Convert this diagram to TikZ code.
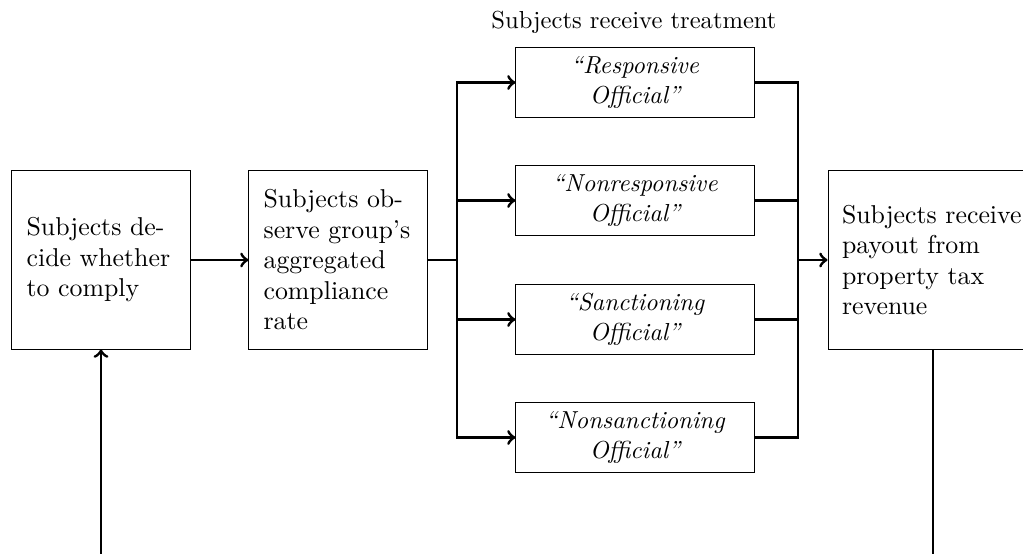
\documentclass[tikz,border=0pt]{standalone}
\begin{document}
\begin{tikzpicture}[x=0.40665pt,y=-0.40665pt,
  boxfont/.style={font=\fontsize{10.5}{12.4}\selectfont},
  box/.style={draw, boxfont, inner sep=0pt, minimum width=72.4pt, minimum height=72.4pt, text width=60.5pt, align=left},
  cbox/.style={draw, boxfont, inner sep=0pt, minimum width=85.4pt, minimum height=72.4pt, text width=74pt, align=left},
  tbox/.style={draw, inner sep=0pt, minimum width=96.8pt, minimum height=28.1pt, text width=90pt, align=center, font=\itshape},
  conn/.style={very thick},
  arr/.style={very thick,->}]
\useasboundingbox (0,0) rectangle (1023,554);
\clip (0,0) rectangle (1023,554);
\node[box] (A) at (101,260) {Subjects de-\\cide whether\\to comply};
\node[box] (B) at (338,260) {Subjects ob-\\serve group's\\aggregated\\compliance\\rate};
\node[cbox] (C) at (933,260) {Subjects receive\\payout from\\property tax\\revenue};
\node[tbox] (T1) at (635,82.5) {``Responsive\\Official''};
\node[tbox] (T2) at (635,200.5) {``Nonresponsive\\Official''};
\node[tbox] (T3) at (635,319.5) {``Sanctioning\\Official''};
\node[tbox] (T4) at (635,437.5) {``Nonsanctioning\\Official''};
\node (title) at (634,22) {Subjects receive treatment};
\coordinate (s) at (457,260);
\coordinate (m) at (798,260);
\coordinate (bl) at (101,560);
\coordinate (br) at (933,560);
\draw[arr] (A.east) -- (B.west);
\draw[conn] (B.east) -- (s);
\draw[arr] (s) |- (T1.west);
\draw[arr] (s) |- (T4.west);
\draw[arr] (s |- T2) -- (T2.west);
\draw[arr] (s |- T3) -- (T3.west);
\draw[conn] (T1.east) -| (m);
\draw[conn] (T4.east) -| (m);
\draw[conn] (T2.east) -- (m |- T2);
\draw[conn] (T3.east) -- (m |- T3);
\draw[arr] (m) -- (C.west);
\draw[arr] (bl) -- (A.south);
\draw[conn] (C.south) -- (br);
\end{tikzpicture}
\end{document}
